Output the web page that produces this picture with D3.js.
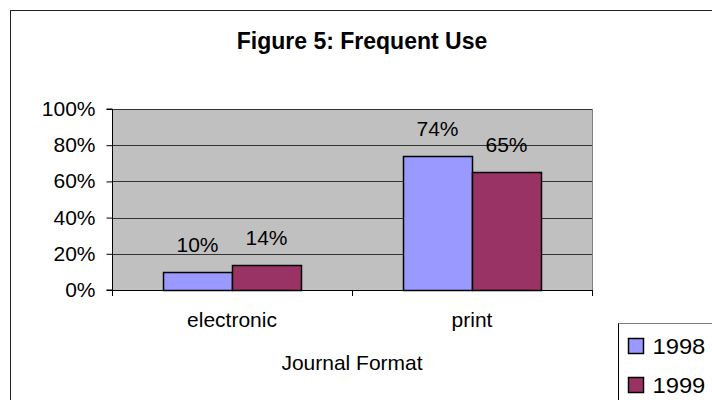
<!DOCTYPE html>
<html>
<head>
<meta charset="utf-8">
<script src="https://cdn.jsdelivr.net/npm/d3@7"></script>
<style>
  html, body { margin: 0; padding: 0; background: #fff; }
  svg { display: block; font-family: "Liberation Sans", Arial, sans-serif; }
</style>
</head>
<body>
<svg id="chart" width="712" height="400"></svg>
<script>
// Journal format usage, share of respondents using each format frequently
const categories = ["electronic", "print"];
const seriesNames = ["1998", "1999"];
const values1998 = [0.10, 0.74];
const values1999 = [0.14, 0.65];
const seriesColors = ["#9999FF", "#993366"];
const yTicks = [0, 0.2, 0.4, 0.6, 0.8, 1.0];

const seriesValues = [values1998, values1999];

// body text is set slightly wide
const FONT = 20;
const WIDE = 1.05;

const svg = d3.select("#chart");

// place a label at (px, py) with the wide text style
function label(parent, px, py, str, anchor, size, sx) {
  return parent.append("text")
    .attr("transform", `translate(${px},${py}) scale(${sx || WIDE},1)`)
    .attr("text-anchor", anchor || "start")
    .attr("font-size", size || FONT)
    .attr("fill", "#000")
    .text(str);
}

// outer chart frame
svg.append("rect")
  .attr("x", 10.5).attr("y", 10.5)
  .attr("width", 720).attr("height", 400)
  .attr("fill", "#fff").attr("stroke", "#222").attr("stroke-width", 1);

const plot = { left: 112, right: 592, top: 109, bottom: 290 };

const x = d3.scaleBand()
  .domain(categories)
  .range([plot.left, plot.right])
  .padding(0);

const xs = d3.scaleBand()
  .domain(seriesNames)
  .range([0, x.bandwidth()])
  .paddingInner(0)
  .paddingOuter(0.74);

const y = d3.scaleLinear()
  .domain([0, 1])
  .range([plot.bottom, plot.top]);

// plot background
svg.append("rect")
  .attr("x", plot.left).attr("y", plot.top)
  .attr("width", plot.right - plot.left).attr("height", plot.bottom - plot.top)
  .attr("fill", "#C0C0C0");

// horizontal gridlines
svg.append("g")
  .selectAll("line")
  .data(yTicks.filter(d => d > 0))
  .join("line")
  .attr("x1", plot.left).attr("x2", plot.right)
  .attr("y1", d => Math.round(y(d)) + 0.5).attr("y2", d => Math.round(y(d)) + 0.5)
  .attr("stroke", "#333").attr("stroke-width", 1);

// right border of plot area
svg.append("line")
  .attr("x1", plot.right + 0.5).attr("x2", plot.right + 0.5)
  .attr("y1", plot.top).attr("y2", plot.bottom)
  .attr("stroke", "#808080");

// bars with value labels
seriesNames.forEach((s, si) => {
  const g = svg.append("g");
  const rows = categories.map((c, ci) => ({ c, v: seriesValues[si][ci] }));
  g.selectAll("rect")
    .data(rows)
    .join("rect")
    .attr("x", d => Math.round(x(d.c) + xs(s)) + 0.5)
    .attr("y", d => Math.round(y(d.v)) + 0.5)
    .attr("width", Math.round(xs.bandwidth()))
    .attr("height", d => Math.round(y(0)) - Math.round(y(d.v)))
    .attr("fill", seriesColors[si])
    .attr("stroke", "#000")
    .attr("stroke-width", 1.5);

  rows.forEach(d => {
    label(g, x(d.c) + xs(s) + xs.bandwidth() / 2, y(d.v) - 20,
      d3.format(".0%")(d.v), "middle");
  });
});

// y axis
const yAxis = d3.axisLeft(y)
  .tickValues(yTicks)
  .tickFormat(d3.format(".0%"))
  .tickSize(6)
  .tickPadding(11);

const yg = svg.append("g")
  .attr("transform", `translate(${plot.left + 0.5},0)`)
  .call(yAxis);
yg.select(".domain").attr("stroke", "#000").attr("d", `M-6,${plot.top}H0V${plot.bottom}H-6`);
yg.selectAll(".tick line").attr("stroke", "#000");
yg.selectAll(".tick text")
  .attr("font-family", "Liberation Sans, Arial, sans-serif")
  .attr("font-size", FONT).attr("fill", "#000")
  .attr("x", -17 / WIDE)
  .attr("transform", `scale(${WIDE},1)`);

// x axis
const xAxis = d3.axisBottom(x)
  .tickSize(0)
  .tickPadding(21);

const xg = svg.append("g")
  .attr("transform", `translate(0,${plot.bottom + 0.5})`)
  .call(xAxis);
xg.select(".domain").attr("stroke", "#000").attr("d", `M${plot.left},0H${plot.right}`);
xg.selectAll(".tick text")
  .attr("font-family", "Liberation Sans, Arial, sans-serif")
  .attr("font-size", FONT).attr("fill", "#000")
  .attr("dy", null).attr("y", 37)
  .attr("transform", `scale(${WIDE},1)`);

// category boundary ticks
svg.append("g")
  .selectAll("line")
  .data([...categories.map(c => x(c)), plot.right])
  .join("line")
  .attr("x1", d => Math.round(d) + 0.5).attr("x2", d => Math.round(d) + 0.5)
  .attr("y1", plot.bottom).attr("y2", plot.bottom + 6)
  .attr("stroke", "#000");

// title
svg.append("text")
  .attr("x", 362).attr("y", 49)
  .attr("text-anchor", "middle")
  .attr("font-size", 23).attr("font-weight", "bold")
  .attr("fill", "#000")
  .text("Figure 5: Frequent Use");

// x axis title
label(svg, (plot.left + plot.right) / 2, 370, "Journal Format", "middle");

// legend
const legend = svg.append("g").attr("transform", "translate(618.5,323.5)");
legend.append("rect")
  .attr("width", 120).attr("height", 100)
  .attr("fill", "#fff").attr("stroke", "#000");
legend.append("line")
  .attr("x1", 0).attr("x2", 120).attr("y1", 0).attr("y2", 0)
  .attr("stroke", "#808080");

seriesNames.forEach((s, i) => {
  const item = legend.append("g").attr("transform", `translate(10,${15 + i * 39})`);
  item.append("rect")
    .attr("width", 15).attr("height", 15)
    .attr("fill", seriesColors[i])
    .attr("stroke", "#000").attr("stroke-width", 1.5);
  label(item, 24, 15, s, "start", 22, 1.08);
});
</script>
</body>
</html>
